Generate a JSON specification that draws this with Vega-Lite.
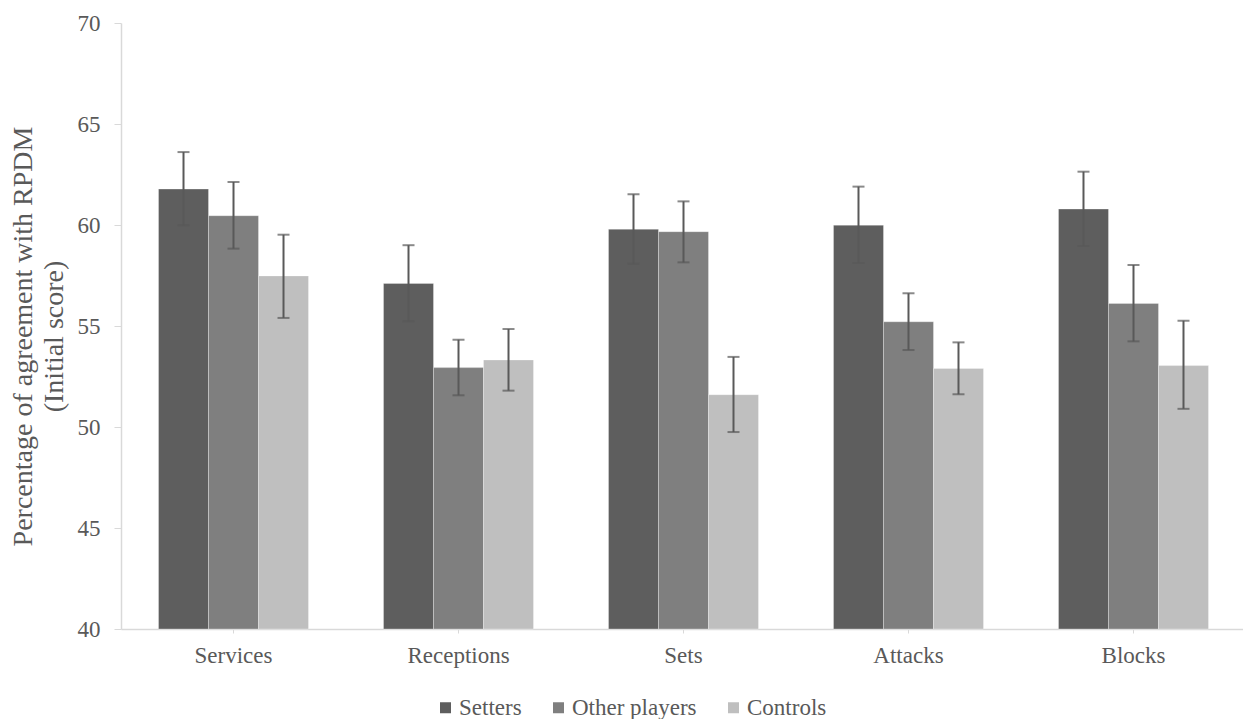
{
  "$schema": "https://vega.github.io/schema/vega-lite/v6.json",
  "autosize": {"type": "none"},
  "padding": {"left": 121, "top": 23, "right": 0, "bottom": 90},
  "width": 1125,
  "height": 606,
  "background": "white",
  "config": {
    "view": {"stroke": null},
    "font": "Liberation Serif",
    "style": {"guide-label": {"font": "Liberation Serif", "fill": "#595959"}, "guide-title": {"font": "Liberation Serif"}},
    "axis": {"grid": false, "domainColor": "#d9d9d9", "tickColor": "#d9d9d9", "labelFont": "Liberation Serif", "labelFontSize": 23, "labelColor": "#595959", "titleFont": "Liberation Serif", "titleColor": "#595959", "titleFontWeight": "normal"},
    "legend": {"labelFont": "Liberation Serif", "labelFontSize": 23, "labelColor": "#595959"}
  },
  "data": {"values": [
    {"category": "Services", "group": "Setters", "value": 61.78, "lo": 59.99, "hi": 63.61},
    {"category": "Services", "group": "Other players", "value": 60.46, "lo": 58.83, "hi": 62.13},
    {"category": "Services", "group": "Controls", "value": 57.48, "lo": 55.40, "hi": 59.52},
    {"category": "Receptions", "group": "Setters", "value": 57.11, "lo": 55.23, "hi": 59.0},
    {"category": "Receptions", "group": "Other players", "value": 52.94, "lo": 51.57, "hi": 54.32},
    {"category": "Receptions", "group": "Controls", "value": 53.32, "lo": 51.80, "hi": 54.85},
    {"category": "Sets", "group": "Setters", "value": 59.79, "lo": 58.08, "hi": 61.52},
    {"category": "Sets", "group": "Other players", "value": 59.67, "lo": 58.15, "hi": 61.17},
    {"category": "Sets", "group": "Controls", "value": 51.60, "lo": 49.75, "hi": 53.47},
    {"category": "Attacks", "group": "Setters", "value": 59.99, "lo": 58.12, "hi": 61.90},
    {"category": "Attacks", "group": "Other players", "value": 55.21, "lo": 53.81, "hi": 56.62},
    {"category": "Attacks", "group": "Controls", "value": 52.90, "lo": 51.62, "hi": 54.19},
    {"category": "Blocks", "group": "Setters", "value": 60.79, "lo": 58.96, "hi": 62.64},
    {"category": "Blocks", "group": "Other players", "value": 56.12, "lo": 54.24, "hi": 58.02},
    {"category": "Blocks", "group": "Controls", "value": 53.04, "lo": 50.9, "hi": 55.26}
  ]},
  "encoding": {
    "x": {"field": "category", "type": "nominal", "sort": ["Services", "Receptions", "Sets", "Attacks", "Blocks"],
      "scale": {"paddingInner": 0.3333, "paddingOuter": 0.1667},
      "axis": {"title": null, "labelAngle": 0, "tickSize": 4, "labelPadding": 11, "domainWidth": 1.5}},
    "xOffset": {"field": "group", "type": "nominal", "sort": ["Setters", "Other players", "Controls"], "scale": {"paddingInner": 0, "paddingOuter": 0}}
  },
  "layer": [
    {
      "mark": {"type": "bar", "stroke": "#ffffff", "strokeWidth": 0.6, "strokeOpacity": 0.5},
      "encoding": {
        "y": {"field": "value", "type": "quantitative", "scale": {"domain": [40, 70], "nice": false, "zero": false},
          "axis": {"values": [40, 45, 50, 55, 60, 65, 70], "tickSize": 7, "labelPadding": 14, "domainWidth": 1.5,
            "title": ["Percentage of agreement with RPDM", "(Initial score)"], "titleFontSize": 28, "titleLineHeight": 31,
            "titleAngle": -90, "titleX": -84, "titleY": 313, "titleAlign": "center", "titleBaseline": "bottom"}},
        "y2": {"datum": 40},
        "color": {"field": "group", "type": "nominal",
          "scale": {"domain": ["Setters", "Other players", "Controls"], "range": ["#5e5e5e", "#7f7f7f", "#bfbfbf"]},
          "legend": {"title": null, "orient": "none", "direction": "horizontal", "legendX": 313, "legendY": 673,
            "symbolType": "square", "symbolSize": 121, "symbolStrokeWidth": 0, "labelFont": "Liberation Serif",
            "labelFontSize": 23, "labelColor": "#595959", "labelOffset": 2, "columnPadding": 25}}
      }
    },
    {
      "mark": {"type": "rule", "color": "#595959", "strokeWidth": 2},
      "encoding": {"y": {"field": "lo", "type": "quantitative"}, "y2": {"field": "hi"}}
    },
    {
      "mark": {"type": "tick", "color": "#595959", "thickness": 2, "size": 12},
      "encoding": {"y": {"field": "lo", "type": "quantitative"}}
    },
    {
      "mark": {"type": "tick", "color": "#595959", "thickness": 2, "size": 12},
      "encoding": {"y": {"field": "hi", "type": "quantitative"}}
    }
  ]
}
